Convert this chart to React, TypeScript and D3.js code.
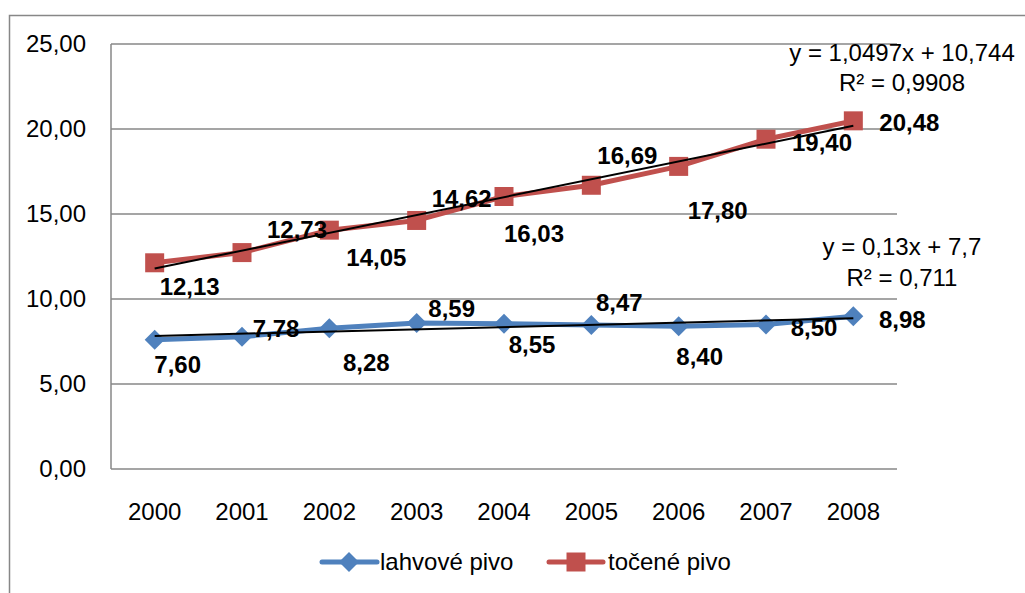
import React from "react";
import * as d3 from "d3";

// Years on the category axis
const years = ["2000", "2001", "2002", "2003", "2004", "2005", "2006", "2007", "2008"];

// Average price per serving (Kč)
const lahvove = [7.6, 7.78, 8.28, 8.59, 8.55, 8.47, 8.4, 8.5, 8.98];
const tocene = [12.13, 12.73, 14.05, 14.62, 16.03, 16.69, 17.8, 19.4, 20.48];

const yTicks = [0, 5, 10, 15, 20, 25];

// Trendline equation texts
const tocenaEq = ["y = 1,0497x + 10,744", "R² = 0,9908"];
const lahvoveEq = ["y = 0,13x + 7,7", "R² = 0,711"];

// Data label placement relative to the point (px)
const tocenaLabelOffsets: [number, number][] = [
  [35, 24], [55, -23], [47, 27], [45, -22], [30, 37], [36, -30], [39, 44], [56, 3], [56, 2],
];
const lahvoveLabelOffsets: [number, number][] = [
  [23, 25], [34, -8], [37, 34], [35, -14], [28, 21], [28, -22], [21, 30], [48, 3], [49, 3],
];

const BLUE = "#4F81BD";
const RED = "#C0504D";
const GRID = "#878787";
const FONT = "'Liberation Sans', Arial, sans-serif";

const W = 1025;
const H = 593;
const plot = { left: 111, right: 897, top: 44, bottom: 469 };

const fmt = (v: number) => v.toFixed(2).replace(".", ",");

function linReg(vals: number[]) {
  const n = vals.length;
  const xs = vals.map((_, i) => i + 1);
  const mx = d3.mean(xs)!;
  const my = d3.mean(vals)!;
  let sxy = 0;
  let sxx = 0;
  xs.forEach((x, i) => {
    sxy += (x - mx) * (vals[i] - my);
    sxx += (x - mx) * (x - mx);
  });
  const slope = sxy / sxx;
  const intercept = my - slope * mx;
  return { slope, intercept, n };
}

export default function App() {
  const x = d3.scaleBand<string>().domain(years).range([plot.left, plot.right]);
  const cx = (i: number) => x(years[i])! + x.bandwidth() / 2;
  const y = d3.scaleLinear().domain([0, 25]).range([plot.bottom, plot.top]);

  const line = d3
    .line<number>()
    .x((_, i) => cx(i))
    .y((d) => y(d));

  const trend = (vals: number[]) => {
    const { slope, intercept, n } = linReg(vals);
    return {
      x1: cx(0),
      y1: y(slope * 1 + intercept),
      x2: cx(n - 1),
      y2: y(slope * n + intercept),
    };
  };
  const tRed = trend(tocene);
  const tBlue = trend(lahvove);

  const diamond = (r: number) => `M0,${-r}L${r},0L0,${r}L${-r},0Z`;
  const square = (s: number) => `M${-s / 2},${-s / 2}h${s}v${s}h${-s}Z`;

  const textStyle = { fontFamily: FONT, fontSize: 24, fill: "#000" } as const;

  return (
    <svg
      width={W}
      height={H}
      style={{ position: "absolute", left: 0, top: 0, background: "#fff" }}
    >
      <rect x={0} y={0} width={W} height={H} fill="#fff" />
      {/* chart frame */}
      <path d={`M9.5,${H}V15.5H${W}`} fill="none" stroke={GRID} strokeWidth={1.5} />

      {/* gridlines */}
      {yTicks.map((t) => (
        <line
          key={t}
          x1={plot.left}
          x2={plot.right}
          y1={y(t)}
          y2={y(t)}
          stroke={GRID}
          strokeWidth={1.5}
        />
      ))}
      <line x1={plot.left} x2={plot.left} y1={plot.top} y2={plot.bottom} stroke={GRID} strokeWidth={1.5} />

      {/* y axis labels */}
      {yTicks.map((t) => (
        <text key={t} x={86} y={y(t)} dy="0.35em" textAnchor="end" style={textStyle}>
          {fmt(t)}
        </text>
      ))}
      {/* x axis labels */}
      {years.map((yr, i) => (
        <text key={yr} x={cx(i)} y={512} dy="0.35em" textAnchor="middle" style={textStyle}>
          {yr}
        </text>
      ))}

      {/* series lines */}
      <path d={line(lahvove)!} fill="none" stroke={BLUE} strokeWidth={5} strokeLinejoin="round" />
      <path d={line(tocene)!} fill="none" stroke={RED} strokeWidth={5} strokeLinejoin="round" />

      {/* markers */}
      {lahvove.map((v, i) => (
        <path key={"b" + i} d={diamond(10)} transform={`translate(${cx(i)},${y(v)})`} fill={BLUE} />
      ))}
      {tocene.map((v, i) => (
        <path key={"r" + i} d={square(19)} transform={`translate(${cx(i)},${y(v)})`} fill={RED} />
      ))}

      {/* trendlines */}
      <line {...tRed} stroke="#000" strokeWidth={2} />
      <line {...tBlue} stroke="#000" strokeWidth={2} />

      {/* data labels */}
      {tocene.map((v, i) => (
        <text
          key={"rl" + i}
          x={cx(i) + tocenaLabelOffsets[i][0]}
          y={y(v) + tocenaLabelOffsets[i][1]}
          dy="0.35em"
          textAnchor="middle"
          style={{ ...textStyle, fontWeight: 700 }}
        >
          {fmt(v)}
        </text>
      ))}
      {lahvove.map((v, i) => (
        <text
          key={"bl" + i}
          x={cx(i) + lahvoveLabelOffsets[i][0]}
          y={y(v) + lahvoveLabelOffsets[i][1]}
          dy="0.35em"
          textAnchor="middle"
          style={{ ...textStyle, fontWeight: 700 }}
        >
          {fmt(v)}
        </text>
      ))}

      {/* trendline equations */}
      {tocenaEq.map((s, i) => (
        <text key={"re" + i} x={902} y={53 + i * 30} dy="0.35em" textAnchor="middle" style={textStyle}>
          {s}
        </text>
      ))}
      {lahvoveEq.map((s, i) => (
        <text key={"be" + i} x={902} y={247 + i * 31} dy="0.35em" textAnchor="middle" style={textStyle}>
          {s}
        </text>
      ))}

      {/* legend */}
      <g>
        <line x1={322} x2={377} y1={562} y2={562} stroke={BLUE} strokeWidth={5} strokeLinecap="round" />
        <path d={diamond(10)} transform="translate(349,562)" fill={BLUE} />
        <text x={380} y={562} dy="0.35em" style={textStyle}>
          lahvové pivo
        </text>
        <line x1={549} x2={603} y1={562} y2={562} stroke={RED} strokeWidth={5} strokeLinecap="round" />
        <path d={square(19)} transform="translate(576,562)" fill={RED} />
        <text x={608} y={562} dy="0.35em" style={textStyle}>
          točené pivo
        </text>
      </g>
    </svg>
  );
}
